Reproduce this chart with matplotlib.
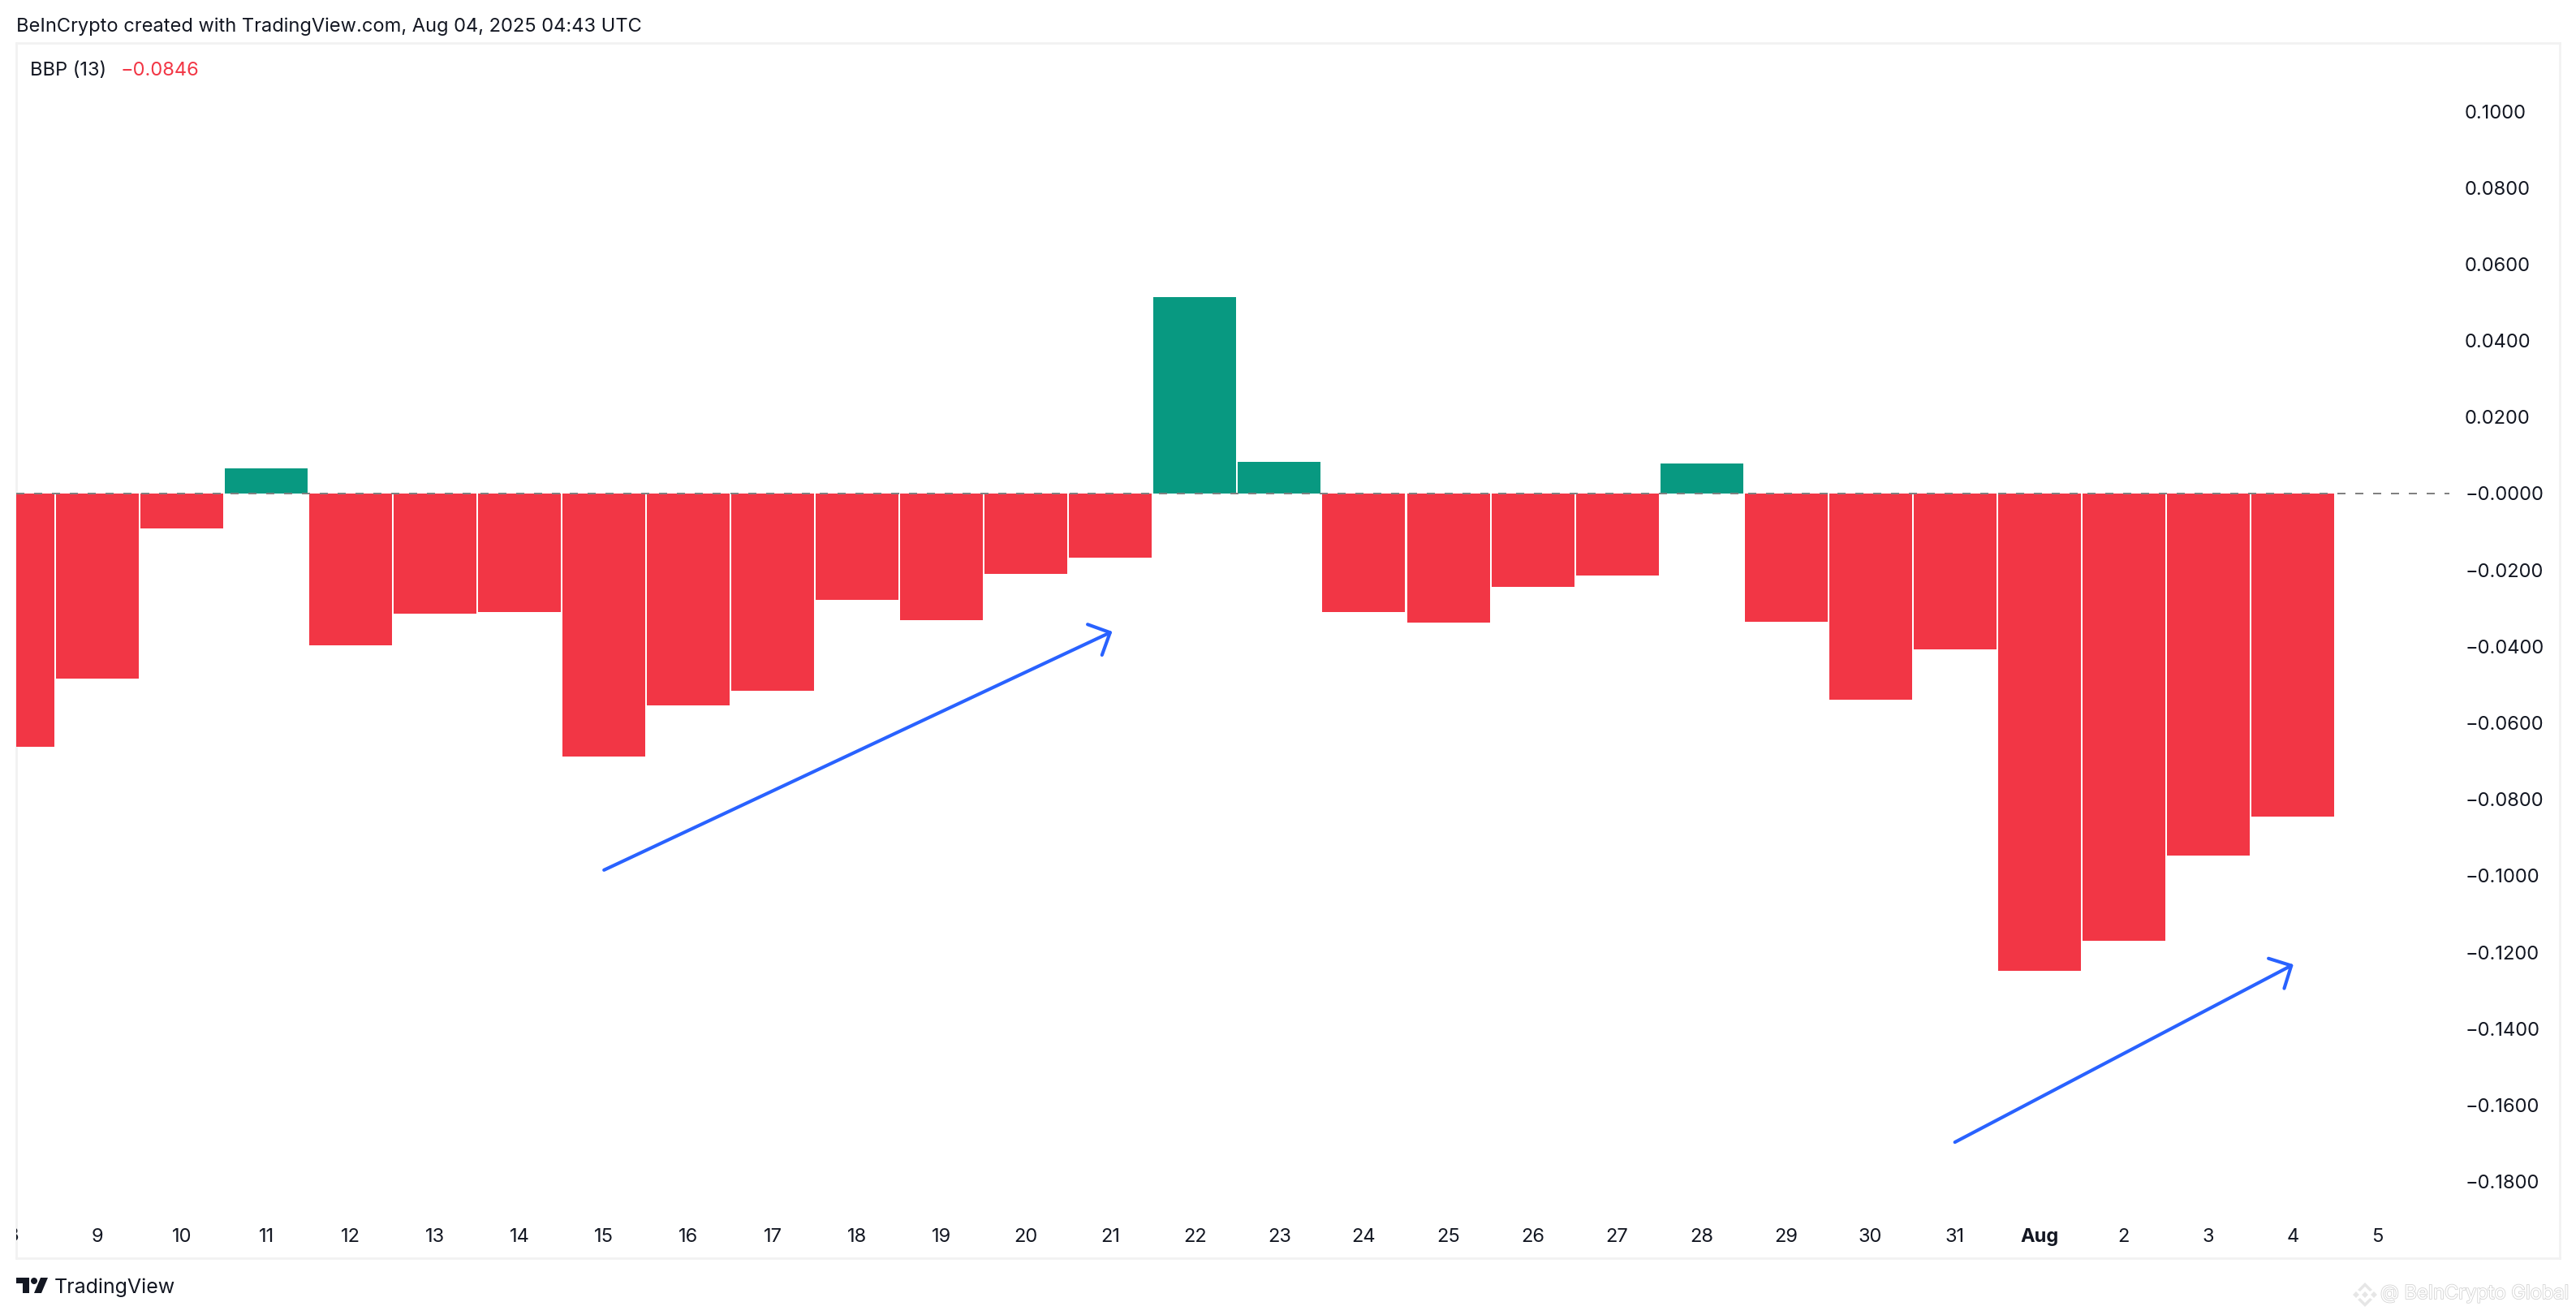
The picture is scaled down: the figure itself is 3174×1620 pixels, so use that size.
import matplotlib
matplotlib.use("Agg")
import matplotlib.pyplot as plt
import matplotlib.patheffects as pe
from matplotlib.patches import Polygon, Ellipse

plt.rcParams['font.family'] = ['Inter', 'DejaVu Sans']

W, H = 3174, 1620
days = ['8','9','10','11','12','13','14','15','16','17','18','19','20','21','22','23','24','25','26','27','28','29','30','31','Aug','2','3','4','5']
bbp = [-0.0663,-0.0484,-0.0091,0.0066,-0.0397,-0.0314,-0.0310,-0.0688,-0.0555,-0.0516,-0.0278,-0.0332,-0.0211,-0.0168,
       0.0513,0.0083,-0.0310,-0.0338,-0.0244,-0.0215,0.0079,-0.0336,-0.0540,-0.0408,-0.1249,-0.1170,-0.0948,-0.0846]
yticks = [0.10,0.08,0.06,0.04,0.02,0.0,-0.02,-0.04,-0.06,-0.08,-0.10,-0.12,-0.14,-0.16,-0.18]
ylabels = ['0.1000','0.0800','0.0600','0.0400','0.0200','\u22120.0000','\u22120.0200','\u22120.0400','\u22120.0600','\u22120.0800','\u22120.1000','\u22120.1200','\u22120.1400','\u22120.1600','\u22120.1800']
arrow_x = [(7.0, 13.02), (23.0, 27.01)]
arrow_y = [(-0.0985, -0.0361), (-0.1697, -0.1232)]

RED, GREEN, BLUE = '#F23645', '#089981', '#2962FF'
INK = '#131722'

fig = plt.figure(figsize=(W/100, H/100), dpi=100, facecolor='white')
L, R, T, B = 20, 3154, 53, 1550
ax = fig.add_axes([L/W, 1-B/H, (R-L)/W, (B-T)/H])
PX = 104.03; X0 = 16.0; Z = 608.0; SC = 4709.0

ax.bar(range(len(bbp)), bbp, width=102/PX, color=[GREEN if v > 0 else RED for v in bbp], linewidth=0, zorder=2)
ax.axhline(0, xmin=0, xmax=(3018-L)/(R-L), color='#808080', lw=1.44, linestyle=(0, (5, 6)), dash_capstyle='butt', zorder=3)

for (x0, x1), (y0, y1) in zip(arrow_x, arrow_y):
    ax.annotate('', xy=(x1, y1), xytext=(x0, y0),
                arrowprops=dict(arrowstyle='->,head_length=15,head_width=15', mutation_scale=1,
                                color=BLUE, lw=3.0, shrinkA=0, shrinkB=0, capstyle='round'), zorder=4)

for s in ax.spines.values():
    s.set_color('#f2f2f2'); s.set_linewidth(2.0); s.set_zorder(1)

ax.yaxis.tick_right()
ax.set_yticks(yticks, ylabels)
ax.tick_params(axis='y', length=0, pad=-84.2, labelsize=17, labelcolor=INK)
ax.set_xticks(range(len(days)), days)
ax.tick_params(axis='x', length=0, pad=-26.5, labelsize=17, labelcolor=INK)
for lab in ax.get_xticklabels():
    if lab.get_text() == 'Aug':
        lab.set_fontweight('bold')
ax.set_xlim((L-X0)/PX, (R-X0)/PX)
ax.set_ylim((Z-B)/SC, (Z-T)/SC)

# the first day's label sits on the frame edge and is cut by it
ax.text(0, (B-1523)/(B-T), days[0], transform=ax.get_xaxis_transform(), ha='center', va='center',
        fontsize=17, color=INK, clip_on=True)

def t(x, y, s, **kw):
    kw.setdefault('color', INK); kw.setdefault('fontsize', 17)
    return fig.text(x/W, 1-y/H, s, va='center', ha='left', **kw)

t(20, 33, 'BeInCrypto created with TradingView.com, Aug 04, 2025 04:43 UTC')
t(37, 87, 'BBP (13)')
t(149, 87, '\u22120.0846', color=RED)
t(67, 1586, 'TradingView', fontsize=18)

wm = t(2933, 1594, '@ BeInCrypto Global', color='white', fontsize=17)
wm.set_path_effects([pe.withStroke(linewidth=1.2, foreground='#d4d4d4')])

def poly(pts, color):
    fig.add_artist(Polygon([(x/W, 1-y/H) for x, y in pts], closed=True, color=color, lw=0, transform=fig.transFigure))

poly([(20,1574),(36,1574),(36,1593),(28,1593),(28,1581),(20,1581)], INK)
poly([(50,1574),(59,1574),(51,1593),(42,1593)], INK)
fig.add_artist(Ellipse((42/W, 1-1578/H), 8/W, 8/H, color=INK, lw=0, transform=fig.transFigure))

# watermark emblem
G = '#e6e6e6'
cx, cy = 2914, 1595
poly([(cx,cy-4),(cx+4,cy),(cx,cy+4),(cx-4,cy)], G)
poly([(cx-11,cy-4),(cx-7,cy),(cx-11,cy+4),(cx-15,cy)], G)
poly([(cx+11,cy-4),(cx+15,cy),(cx+11,cy+4),(cx+7,cy)], G)
poly([(cx,cy-15),(cx+9,cy-6),(cx+6,cy-4),(cx,cy-10),(cx-6,cy-4),(cx-9,cy-6)], G)
poly([(cx,cy+15),(cx+9,cy+6),(cx+6,cy+4),(cx,cy+10),(cx-6,cy+4),(cx-9,cy+6)], G)

fig.savefig('out.png', dpi=100)
